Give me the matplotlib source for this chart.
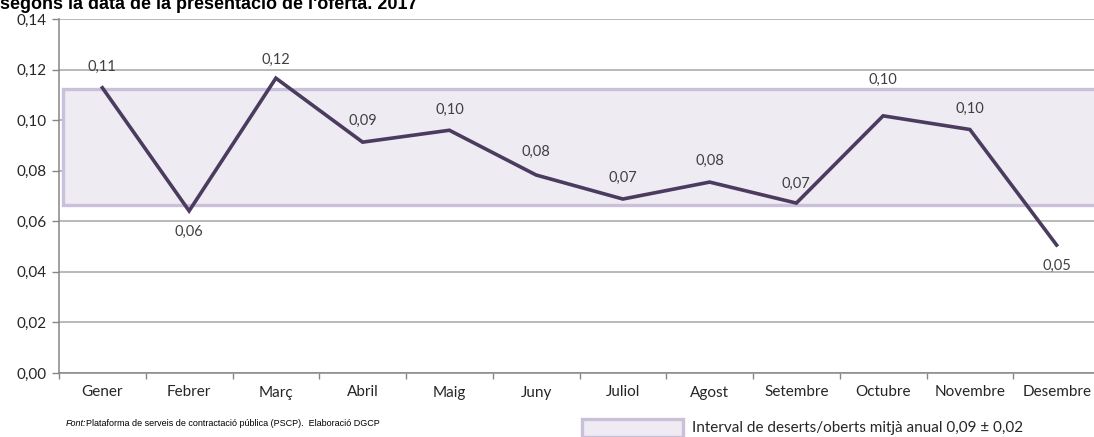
import matplotlib.pyplot as plt
from matplotlib.patches import Rectangle

# Dades: ràtio deserts/oberts per mes
mesos = ['Gener', 'Febrer', 'Març', 'Abril', 'Maig', 'Juny', 'Juliol',
         'Agost', 'Setembre', 'Octubre', 'Novembre', 'Desembre']
valors = [0.1128, 0.0641, 0.1166, 0.0913, 0.0960, 0.0783, 0.0688,
          0.0755, 0.0672, 0.1017, 0.0963, 0.0506]
interval_baix = 0.0663
interval_alt = 0.1123
y_ticks = [0.00, 0.02, 0.04, 0.06, 0.08, 0.10, 0.12, 0.14]

# desplaçament de les etiquetes (punts), positiu = a sobre
label_offsets = [15, -15, 13, 15, 15, 17, 15, 15, 14, 26, 15, -15]

plt.rcParams['font.family'] = ['Lato', 'DejaVu Sans']

W, H = 1094, 437
fig = plt.figure(figsize=(W / 100, H / 100), dpi=100)
left, bottom = 59 / W, 64 / H
ax = fig.add_axes([left, bottom, 12 * 86.75 / W, 354 / H])

x = list(range(len(mesos)))

# banda de l'interval
band = Rectangle((-0.45, interval_baix), 13, interval_alt - interval_baix,
                 facecolor='#EEEBF2', edgecolor='#CBC0DA', lw=2.4, zorder=1)
ax.add_patch(band)

ax.plot(x, valors, color='#4B3C5F', lw=2.6, zorder=3, solid_joinstyle='miter')

for xi, v, off in zip(x, valors, label_offsets):
    ax.annotate(f'{v:.2f}'.replace('.', ','), (xi, v), xytext=(0, off),
                textcoords='offset points', ha='center', va='center',
                fontsize=10.5, color='#404040', zorder=4)

ax.set_xlim(-0.5, 11.5)
ax.set_ylim(0, 0.14)
ax.set_yticks(y_ticks)
ax.set_yticklabels([f'{t:.2f}'.replace('.', ',') for t in y_ticks])
ax.yaxis.grid(True, color='#A6A6A6', lw=1.1, zorder=0)
ax.set_axisbelow(True)

# ticks de categoria: marques entre mesos, etiquetes al centre
ax.set_xticks([i + 0.5 for i in range(-1, 12)])
ax.set_xticklabels([])
ax.set_xticks(x, minor=True)
ax.set_xticklabels(mesos, minor=True)
ax.tick_params(axis='x', which='major', length=4, color='#868686', width=1)
ax.tick_params(axis='x', which='minor', length=0, pad=9, labelsize=11,
               labelcolor='#262626')
ax.tick_params(axis='y', length=5, color='#868686', width=1, labelsize=11,
               labelcolor='#262626', pad=4)

for s in ['top', 'right']:
    ax.spines[s].set_visible(False)
for s in ['left', 'bottom']:
    ax.spines[s].set_color('#868686')
    ax.spines[s].set_linewidth(1.1)

# títol tallat a dalt
fig.text(0, 1 - 9 / H, "segons la data de la presentació de l'oferta. 2017",
         fontsize=13, fontweight='bold', family=['Liberation Sans', 'DejaVu Sans'],
         ha='left', va='baseline', color='#000000')

# font
fig.text(66 / W, 1 - 424 / H, 'Font:', fontsize=6.5, style='italic',
         family=['Liberation Sans Narrow', 'Liberation Sans'], va='center')
fig.text(86 / W, 1 - 424 / H,
         'Plataforma de serveis de contractació pública (PSCP).  Elaboració DGCP',
         fontsize=6.5, family=['Liberation Sans Narrow', 'Liberation Sans'],
         va='center')

# llegenda
fig.add_artist(Rectangle((582 / W, 0), 101 / W, 18 / H, transform=fig.transFigure,
                         facecolor='#EEEBF2', edgecolor='#CBC0DA', lw=2.4))
fig.text(692 / W, 1 - 428 / H, 'Interval de deserts/oberts mitjà anual 0,09 ± 0,02',
         fontsize=11, va='center', color='#262626')

fig.savefig('out.png', dpi=100)
